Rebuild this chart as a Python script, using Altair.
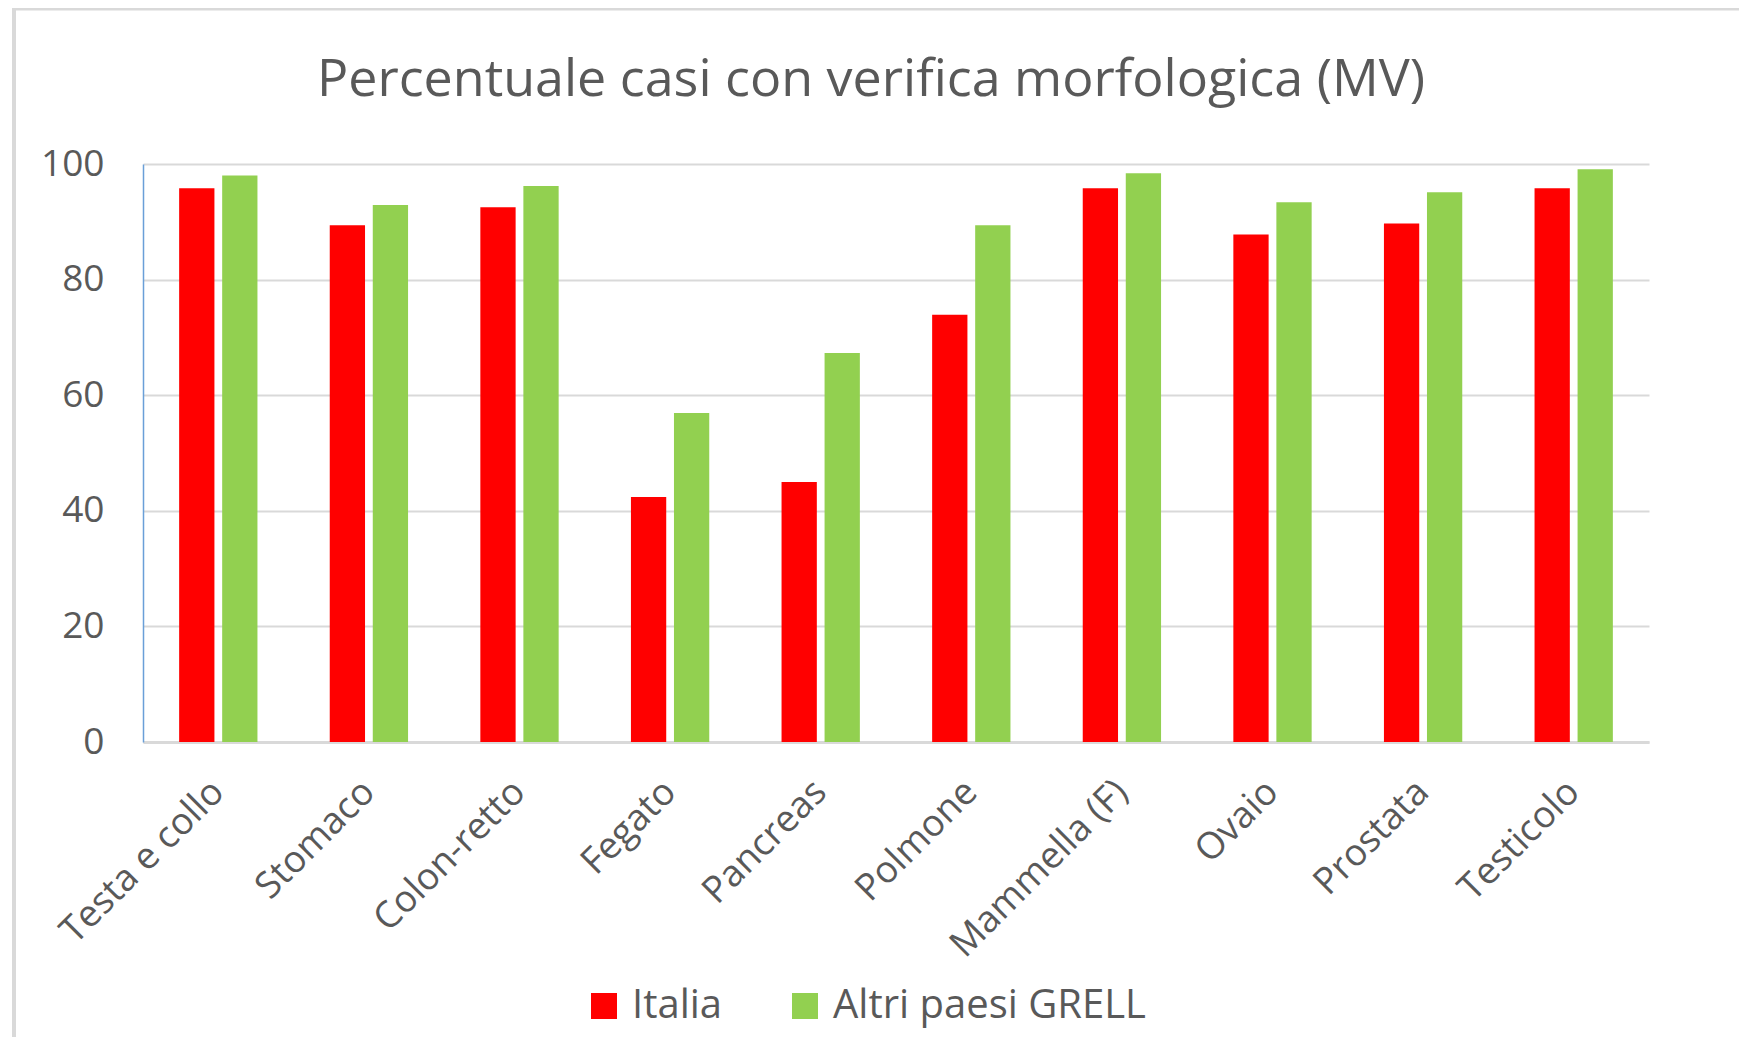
import altair as alt
import pandas as pd

categories = ["Testa e collo", "Stomaco", "Colon-retto", "Fegato", "Pancreas",
              "Polmone", "Mammella (F)", "Ovaio", "Prostata", "Testicolo"]
italia = [95.8, 89.4, 92.5, 42.4, 45.0, 73.9, 95.8, 87.8, 89.7, 95.8]
altri = [98.0, 92.9, 96.2, 56.9, 67.3, 89.4, 98.4, 93.4, 95.1, 99.1]
series = ["Italia", "Altri paesi GRELL"]
colors = ["#FF0000", "#92D050"]
y_ticks = [0, 20, 40, 60, 80, 100]
title_text = "Percentuale casi con verifica morfologica (MV)"

rows = []
for c, a, b in zip(categories, italia, altri):
    rows.append({"categoria": c, "serie": series[0], "valore": a})
    rows.append({"categoria": c, "serie": series[1], "valore": b})
df = pd.DataFrame(rows)

W, H = 1506, 578
FONT = "Open Sans"
TXT = "#595959"

bars = alt.Chart(df).mark_bar().encode(
    x=alt.X("categoria:N", sort=categories,
            scale=alt.Scale(paddingInner=0.48, paddingOuter=0.24),
            axis=alt.Axis(title=None, labelAngle=-45, labelAlign="right",
                          labelBaseline="middle", labelFontSize=37,
                          labelColor=TXT, labelFont=FONT, labelPadding=44,
                          labelLimit=600, ticks=False, domainColor="#d9d9d9",
                          domainWidth=3, labelOverlap=False)),
    xOffset=alt.XOffset("serie:N", sort=series,
                        scale=alt.Scale(paddingInner=0.18)),
    y=alt.Y("valore:Q", scale=alt.Scale(domain=[0, 100], nice=False),
            axis=alt.Axis(title=None, values=y_ticks, ticks=False,
                          labelFontSize=37, labelColor=TXT, labelFont=FONT,
                          labelPadding=39, gridColor="#d9d9d9", gridWidth=2,
                          domainColor="#6a9fd8", domainWidth=1.5)),
    color=alt.Color("serie:N", sort=series,
                    scale=alt.Scale(domain=series, range=colors),
                    legend=alt.Legend(title=None, orient="none", legendX=441,
                                      legendY=822, direction="horizontal",
                                      symbolType="square", symbolSize=676,
                                      symbolStrokeWidth=0, labelFontSize=40,
                                      labelColor=TXT, labelFont=FONT,
                                      labelOffset=8, labelLimit=800,
                                      columnPadding=62, padding=0)),
)

frame = alt.Data(values=[{"k": 0}])
left_border = alt.Chart(frame).mark_rule(color="#d9d9d9", strokeWidth=4).encode(
    x=alt.value(-129), y=alt.value(-156), y2=alt.value(H + 300))
top_border = alt.Chart(frame).mark_rule(color="#d9d9d9", strokeWidth=3).encode(
    x=alt.value(-129), x2=alt.value(W + 100), y=alt.value(-155))

chart = alt.layer(left_border, top_border, bars).properties(
    width=W, height=H,
    title=alt.TitleParams(title_text, fontSize=52, font=FONT,
                          fontWeight="normal", color=TXT, anchor="middle",
                          dx=-25, dy=142, offset=0, baseline="alphabetic"),
    padding={"left": 135, "top": 156, "right": 90, "bottom": 295},
    autosize=alt.AutoSizeParams(type="none"),
).configure_view(stroke=None)

chart.save("out.html", embed_options={"renderer": "svg", "actions": False})
